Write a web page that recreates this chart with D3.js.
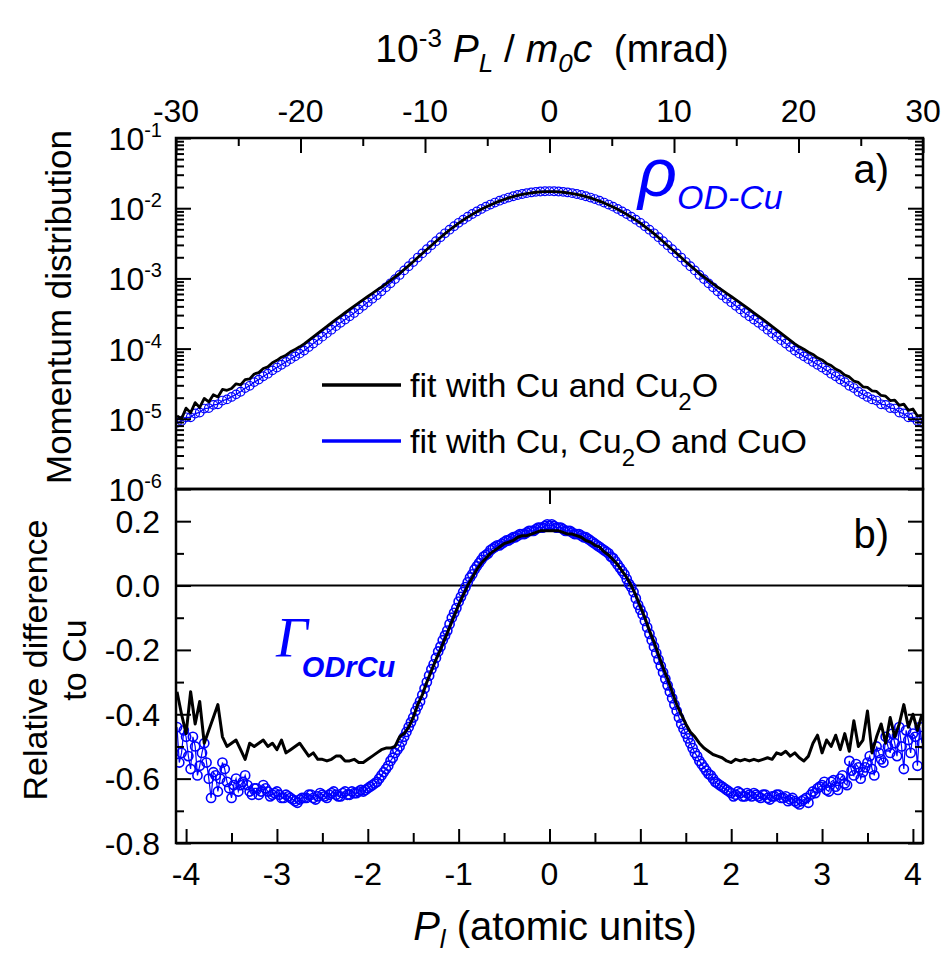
<!DOCTYPE html>
<html><head><meta charset="utf-8">
<script src="https://cdn.jsdelivr.net/npm/d3@7"></script>
<style>
body{margin:0;background:#fff}
svg{display:block}
text{font-family:"Liberation Sans",Arial,sans-serif;fill:#000}
</style>
</head><body>
<svg id="c" width="946" height="958"></svg>
<script>
// ---------------- data ----------------
const pAU = [
-4.10,-4.05,-4.00,-3.95,-3.90,-3.85,-3.80,-3.75,-3.70,-3.65,
-3.60,-3.55,-3.50,-3.45,-3.40,-3.35,-3.30,-3.25,-3.20,-3.15,
-3.10,-3.05,-3.00,-2.95,-2.90,-2.85,-2.80,-2.75,-2.70,-2.65,
-2.60,-2.55,-2.50,-2.45,-2.40,-2.35,-2.30,-2.25,-2.20,-2.15,
-2.10,-2.05,-2.00,-1.95,-1.90,-1.85,-1.80,-1.75,-1.70,-1.65,
-1.60,-1.55,-1.50,-1.45,-1.40,-1.35,-1.30,-1.25,-1.20,-1.15,
-1.10,-1.05,-1.00,-0.95,-0.90,-0.85,-0.80,-0.75,-0.70,-0.65,
-0.60,-0.55,-0.50,-0.45,-0.40,-0.35,-0.30,-0.25,-0.20,-0.15,
-0.10,-0.05,0.00,0.05,0.10,
0.15,0.20,0.25,0.30,0.35,0.40,0.45,0.50,0.55,0.60,
0.65,0.70,0.75,0.80,0.85,0.90,0.95,1.00,1.05,1.10,
1.15,1.20,1.25,1.30,1.35,1.40,1.45,1.50,1.55,1.60,
1.65,1.70,1.75,1.80,1.85,1.90,1.95,2.00,2.05,2.10,
2.15,2.20,2.25,2.30,2.35,2.40,2.45,2.50,2.55,2.60,
2.65,2.70,2.75,2.80,2.85,2.90,2.95,3.00,3.05,3.10,
3.15,3.20,3.25,3.30,3.35,3.40,3.45,3.50,3.55,3.60,
3.65,3.70,3.75,3.80,3.85,3.90,3.95,4.00,4.05,4.10];

// intermediate momentum points (extra measured circles in panel b)
const pAUmid = [
-4.075,-4.025,-3.975,-3.925,-3.875,-3.825,-3.775,-3.725,-3.675,-3.625,
-3.575,-3.525,-3.475,-3.425,-3.375,-3.325,-3.275,-3.225,-3.175,-3.125,
-3.075,-3.025,-2.975,-2.925,-2.875,-2.825,-2.775,-2.725,-2.675,-2.625,
-2.575,-2.525,-2.475,-2.425,-2.375,-2.325,-2.275,-2.225,-2.175,-2.125,
-2.075,-2.025,-1.975,-1.925,-1.875,-1.825,-1.775,-1.725,-1.675,-1.625,
-1.575,-1.525,-1.475,-1.425,-1.375,-1.325,-1.275,-1.225,-1.175,-1.125,
-1.075,-1.025,-0.975,-0.925,-0.875,-0.825,-0.775,-0.725,-0.675,-0.625,
-0.575,-0.525,-0.475,-0.425,-0.375,-0.325,-0.275,-0.225,-0.175,-0.125,
-0.075,-0.025,
0.025,0.075,0.125,0.175,0.225,0.275,0.325,0.375,0.425,0.475,
0.525,0.575,0.625,0.675,0.725,0.775,0.825,0.875,0.925,0.975,
1.025,1.075,1.125,1.175,1.225,1.275,1.325,1.375,1.425,1.475,
1.525,1.575,1.625,1.675,1.725,1.775,1.825,1.875,1.925,1.975,
2.025,2.075,2.125,2.175,2.225,2.275,2.325,2.375,2.425,2.475,
2.525,2.575,2.625,2.675,2.725,2.775,2.825,2.875,2.925,2.975,
3.025,3.075,3.125,3.175,3.225,3.275,3.325,3.375,3.425,3.475,
3.525,3.575,3.625,3.675,3.725,3.775,3.825,3.875,3.925,3.975,
4.025,4.075];

// momentum distribution, fit with Cu and Cu2O (black line)
const rhoFitCuCu2O = [
1.10e-5,1.00e-5,1.42e-5,1.22e-5,1.70e-5,1.45e-5,1.95e-5,1.74e-5,2.20e-5,2.05e-5,
2.62e-5,2.55e-5,2.70e-5,3.15e-5,3.05e-5,3.62e-5,3.70e-5,4.35e-5,4.55e-5,5.20e-5,
5.50e-5,6.30e-5,6.80e-5,7.55e-5,8.05e-5,9.00e-5,9.75e-5,1.06e-4,1.17e-4,1.31e-4,
1.47e-4,1.65e-4,1.85e-4,2.07e-4,2.33e-4,2.61e-4,2.91e-4,3.24e-4,3.61e-4,4.02e-4,
4.47e-4,4.97e-4,5.52e-4,6.12e-4,6.79e-4,7.53e-4,8.38e-4,9.35e-4,1.05e-3,1.18e-3,
1.34e-3,1.52e-3,1.73e-3,1.98e-3,2.26e-3,2.58e-3,2.94e-3,3.36e-3,3.82e-3,4.34e-3,
4.89e-3,5.48e-3,6.12e-3,6.78e-3,7.46e-3,8.17e-3,8.89e-3,9.64e-3,1.039e-2,1.114e-2,
1.189e-2,1.262e-2,1.332e-2,1.400e-2,1.462e-2,1.521e-2,1.572e-2,1.618e-2,1.656e-2,1.687e-2,
1.708e-2,1.722e-2,1.726e-2,1.722e-2,1.708e-2,
1.687e-2,1.656e-2,1.618e-2,1.572e-2,1.521e-2,1.462e-2,1.400e-2,1.332e-2,1.262e-2,1.189e-2,
1.114e-2,1.039e-2,9.64e-3,8.89e-3,8.17e-3,7.46e-3,6.78e-3,6.12e-3,5.48e-3,4.89e-3,
4.34e-3,3.82e-3,3.36e-3,2.94e-3,2.58e-3,2.26e-3,1.98e-3,1.73e-3,1.52e-3,1.34e-3,
1.18e-3,1.05e-3,9.35e-4,8.38e-4,7.53e-4,6.79e-4,6.12e-4,5.52e-4,4.97e-4,4.47e-4,
4.02e-4,3.61e-4,3.24e-4,2.91e-4,2.61e-4,2.33e-4,2.07e-4,1.85e-4,1.65e-4,1.47e-4,
1.31e-4,1.17e-4,1.06e-4,9.80e-5,8.90e-5,8.25e-5,7.40e-5,6.90e-5,6.15e-5,5.75e-5,
5.10e-5,4.75e-5,4.20e-5,3.95e-5,3.45e-5,3.30e-5,2.85e-5,2.80e-5,2.50e-5,2.45e-5,
2.15e-5,2.10e-5,1.82e-5,1.85e-5,1.55e-5,1.62e-5,1.32e-5,1.38e-5,1.10e-5,1.12e-5];

// momentum distribution, fit with Cu, Cu2O and CuO (blue)
const rhoFitCuCu2OCuO = [
8.8e-6,9.3e-6,1.05e-5,1.05e-5,1.19e-5,1.23e-5,1.40e-5,1.42e-5,1.58e-5,1.61e-5,
1.82e-5,1.89e-5,2.05e-5,2.23e-5,2.43e-5,2.74e-5,2.95e-5,3.33e-5,3.62e-5,4.04e-5,
4.39e-5,4.90e-5,5.37e-5,5.89e-5,6.46e-5,7.08e-5,7.76e-5,8.48e-5,9.36e-5,1.05e-4,
1.18e-4,1.32e-4,1.48e-4,1.66e-4,1.86e-4,2.09e-4,2.33e-4,2.59e-4,2.89e-4,3.22e-4,
3.62e-4,4.08e-4,4.58e-4,5.14e-4,5.77e-4,6.55e-4,7.46e-4,8.51e-4,9.77e-4,1.12e-3,
1.30e-3,1.49e-3,1.71e-3,1.98e-3,2.27e-3,2.60e-3,2.97e-3,3.39e-3,3.86e-3,4.39e-3,
4.94e-3,5.54e-3,6.19e-3,6.86e-3,7.55e-3,8.27e-3,9.00e-3,9.76e-3,1.052e-2,1.128e-2,
1.204e-2,1.278e-2,1.349e-2,1.418e-2,1.481e-2,1.541e-2,1.593e-2,1.639e-2,1.678e-2,1.709e-2,
1.730e-2,1.745e-2,1.749e-2,1.745e-2,1.730e-2,
1.709e-2,1.678e-2,1.639e-2,1.593e-2,1.541e-2,1.481e-2,1.418e-2,1.349e-2,1.278e-2,1.204e-2,
1.128e-2,1.052e-2,9.76e-3,9.00e-3,8.27e-3,7.55e-3,6.86e-3,6.19e-3,5.54e-3,4.94e-3,
4.39e-3,3.86e-3,3.39e-3,2.97e-3,2.60e-3,2.27e-3,1.98e-3,1.71e-3,1.49e-3,1.30e-3,
1.12e-3,9.77e-4,8.51e-4,7.46e-4,6.55e-4,5.77e-4,5.14e-4,4.58e-4,4.08e-4,3.62e-4,
3.22e-4,2.89e-4,2.59e-4,2.33e-4,2.09e-4,1.86e-4,1.66e-4,1.48e-4,1.32e-4,1.18e-4,
1.05e-4,9.36e-5,8.48e-5,7.76e-5,7.08e-5,6.46e-5,5.89e-5,5.37e-5,4.90e-5,4.39e-5,
4.04e-5,3.62e-5,3.33e-5,2.95e-5,2.74e-5,2.43e-5,2.23e-5,2.05e-5,1.89e-5,1.82e-5,
1.61e-5,1.58e-5,1.42e-5,1.40e-5,1.23e-5,1.19e-5,1.05e-5,1.05e-5,9.3e-6,8.8e-6];

// relative difference to Cu, fit with Cu and Cu2O (black line)
const gamFitCuCu2O = [
-0.33,-0.40,-0.46,-0.33,-0.43,-0.36,-0.49,-0.45,-0.41,-0.37,
-0.47,-0.50,-0.49,-0.48,-0.51,-0.54,-0.49,-0.50,-0.49,-0.48,
-0.50,-0.49,-0.51,-0.48,-0.52,-0.51,-0.50,-0.49,-0.51,-0.53,
-0.52,-0.54,-0.54,-0.545,-0.54,-0.53,-0.53,-0.545,-0.545,-0.54,
-0.55,-0.55,-0.54,-0.53,-0.52,-0.51,-0.505,-0.505,-0.50,-0.47,
-0.46,-0.44,-0.41,-0.37,-0.34,-0.30,-0.265,-0.23,-0.20,-0.165,
-0.13,-0.095,-0.06,-0.03,0.00,0.025,0.05,0.07,0.085,0.10,
0.11,0.12,0.13,0.135,0.14,0.15,0.155,0.155,0.16,0.165,
0.17,0.17,0.17,0.17,0.17,
0.165,0.16,0.16,0.155,0.15,0.14,0.135,0.125,0.12,0.105,
0.095,0.08,0.065,0.045,0.025,0.00,-0.03,-0.065,-0.10,-0.14,
-0.175,-0.215,-0.255,-0.29,-0.33,-0.37,-0.40,-0.43,-0.455,-0.47,
-0.49,-0.505,-0.515,-0.525,-0.53,-0.535,-0.545,-0.55,-0.54,-0.545,
-0.54,-0.545,-0.54,-0.545,-0.54,-0.535,-0.54,-0.52,-0.525,-0.515,
-0.53,-0.52,-0.535,-0.545,-0.53,-0.49,-0.465,-0.52,-0.48,-0.50,
-0.465,-0.51,-0.46,-0.515,-0.42,-0.50,-0.48,-0.39,-0.52,-0.47,
-0.43,-0.49,-0.41,-0.47,-0.43,-0.37,-0.44,-0.40,-0.45,-0.40];

// relative difference to Cu, fit with Cu, Cu2O and CuO (blue circles)
const gamFitCuCu2OCuO = [
-0.44,-0.52,-0.47,-0.57,-0.50,-0.56,-0.49,-0.60,-0.58,-0.64,
-0.55,-0.61,-0.66,-0.60,-0.62,-0.59,-0.64,-0.63,-0.65,-0.62,
-0.64,-0.65,-0.64,-0.66,-0.65,-0.66,-0.67,-0.665,-0.66,-0.65,
-0.66,-0.655,-0.65,-0.66,-0.645,-0.65,-0.655,-0.64,-0.65,-0.645,
-0.64,-0.64,-0.63,-0.62,-0.61,-0.59,-0.57,-0.545,-0.52,-0.50,
-0.47,-0.44,-0.41,-0.375,-0.34,-0.30,-0.26,-0.225,-0.19,-0.155,
-0.12,-0.085,-0.05,-0.02,0.01,0.035,0.06,0.08,0.095,0.11,
0.12,0.125,0.135,0.14,0.15,0.155,0.16,0.165,0.17,0.175,
0.18,0.185,0.185,0.185,0.18,
0.175,0.17,0.165,0.16,0.155,0.15,0.14,0.13,0.12,0.11,
0.10,0.085,0.065,0.045,0.02,-0.005,-0.04,-0.075,-0.11,-0.15,
-0.19,-0.23,-0.27,-0.31,-0.35,-0.39,-0.43,-0.46,-0.49,-0.52,
-0.545,-0.565,-0.585,-0.60,-0.615,-0.625,-0.635,-0.645,-0.65,-0.645,
-0.655,-0.65,-0.645,-0.655,-0.65,-0.66,-0.655,-0.65,-0.66,-0.655,
-0.665,-0.67,-0.68,-0.665,-0.675,-0.64,-0.63,-0.62,-0.635,-0.61,
-0.625,-0.60,-0.615,-0.545,-0.59,-0.565,-0.58,-0.55,-0.57,-0.50,
-0.54,-0.47,-0.52,-0.49,-0.44,-0.57,-0.48,-0.46,-0.56,-0.49];

// same blue series at the intermediate momenta (pAUmid)
const gamFitCuCu2OCuOmid = [
-0.55,-0.45,-0.53,-0.47,-0.59,-0.52,-0.55,-0.66,-0.59,-0.60,
-0.57,-0.63,-0.62,-0.64,-0.61,-0.62,-0.65,-0.63,-0.64,-0.63,
-0.655,-0.645,-0.65,-0.66,-0.655,-0.665,-0.675,-0.66,-0.66,-0.65,
-0.665,-0.645,-0.655,-0.65,-0.64,-0.655,-0.645,-0.65,-0.64,-0.645,
-0.635,-0.635,-0.625,-0.615,-0.60,-0.58,-0.56,-0.535,-0.51,-0.485,
-0.455,-0.425,-0.39,-0.36,-0.32,-0.28,-0.245,-0.205,-0.17,-0.14,
-0.10,-0.07,-0.035,-0.005,0.025,0.05,0.07,0.09,0.10,0.115,
0.125,0.13,0.14,0.145,0.15,0.16,0.16,0.17,0.17,0.18,
0.18,0.19,
0.19,0.18,0.18,0.17,0.17,0.16,0.16,0.15,0.145,0.135,
0.125,0.115,0.105,0.09,0.075,0.055,0.035,0.005,-0.02,-0.06,
-0.09,-0.13,-0.17,-0.21,-0.25,-0.29,-0.33,-0.37,-0.41,-0.445,
-0.475,-0.505,-0.53,-0.555,-0.575,-0.59,-0.61,-0.62,-0.63,-0.64,
-0.655,-0.64,-0.655,-0.645,-0.655,-0.65,-0.66,-0.65,-0.665,-0.655,
-0.65,-0.66,-0.67,-0.66,-0.675,-0.67,-0.66,-0.65,-0.645,-0.625,
-0.61,-0.64,-0.605,-0.635,-0.59,-0.62,-0.575,-0.555,-0.60,-0.565,
-0.53,-0.59,-0.52,-0.55,-0.50,-0.46,-0.53,-0.50,-0.45,-0.52,
-0.47,-0.44];

const mradTicks = [-30,-20,-10,0,10,20,30];
const mradMinor = [-25,-15,-5,5,15,25];
const auTicks = [-4,-3,-2,-1,0,1,2,3,4];
const auMinor = [-3.5,-2.5,-1.5,-0.5,0.5,1.5,2.5,3.5];
const decadeTicks = [1e-1,1e-2,1e-3,1e-4,1e-5,1e-6];
const decadeExp = ["-1","-2","-3","-4","-5","-6"];
const relTicks = [0.2,0.0,-0.2,-0.4,-0.6,-0.8];
const relLabels = ["0.2","0.0","-0.2","-0.4","-0.6","-0.8"];
const relMinor = [0.1,-0.1,-0.3,-0.5,-0.7];

// ---------------- layout ----------------
const svg = d3.select("#c");
const L = 176, R = 923, T1 = 138, B1 = 489, B2 = 843;
const BLUE = "#0000ff";
const mradPerAU = 7.2974;

const xMrad = d3.scaleLinear().domain([-30, 30]).range([L, R]);
const xAU = d3.scaleLinear().domain([-30 / mradPerAU, 30 / mradPerAU]).range([L, R]);
const yRho = d3.scaleLog().domain([1e-6, 1e-1]).range([B1, T1]);
const yGam = d3.scaleLinear().domain([-0.8, 0.3]).range([B2, B1]);

const defs = svg.append("defs");
defs.append("clipPath").attr("id", "clipA").append("rect").attr("x", L).attr("y", T1).attr("width", R - L).attr("height", B1 - T1);
defs.append("clipPath").attr("id", "clipB").append("rect").attr("x", L).attr("y", B1).attr("width", R - L).attr("height", B2 - B1);

const idx = d3.range(pAU.length);

// ---------- panel a ----------
const gA = svg.append("g").attr("clip-path", "url(#clipA)");
gA.append("path")
  .attr("d", d3.line().x(i => xAU(pAU[i])).y(i => yRho(rhoFitCuCu2OCuO[i]))(idx))
  .attr("fill", "none").attr("stroke", BLUE).attr("stroke-width", 1.3);
gA.selectAll("circle").data(idx).join("circle")
  .attr("cx", i => xAU(pAU[i])).attr("cy", i => yRho(rhoFitCuCu2OCuO[i]))
  .attr("r", 4.3).attr("fill", "none").attr("stroke", BLUE).attr("stroke-width", 1.2);
gA.append("path")
  .attr("d", d3.line().x(i => xAU(pAU[i])).y(i => yRho(rhoFitCuCu2O[i]))(idx))
  .attr("fill", "none").attr("stroke", "#000").attr("stroke-width", 2.8).attr("stroke-linejoin", "round");

// ---------- panel b ----------
const blueB = pAU.map((p, i) => [p, gamFitCuCu2OCuO[i]])
  .concat(pAUmid.map((p, i) => [p, gamFitCuCu2OCuOmid[i]]))
  .sort((a, b) => a[0] - b[0]);
const gB = svg.append("g").attr("clip-path", "url(#clipB)");
gB.append("line").attr("x1", L).attr("x2", R).attr("y1", yGam(0)).attr("y2", yGam(0))
  .attr("stroke", "#000").attr("stroke-width", 2);
gB.append("path")
  .attr("d", d3.line().x(d => xAU(d[0])).y(d => yGam(d[1]))(blueB))
  .attr("fill", "none").attr("stroke", BLUE).attr("stroke-width", 1.2);
gB.selectAll("circle").data(blueB).join("circle")
  .attr("cx", d => xAU(d[0])).attr("cy", d => yGam(d[1]))
  .attr("r", 4.6).attr("fill", "none").attr("stroke", BLUE).attr("stroke-width", 1.6);
gB.append("path")
  .attr("d", d3.line().x(i => xAU(pAU[i])).y(i => yGam(gamFitCuCu2O[i]))(idx))
  .attr("fill", "none").attr("stroke", "#000").attr("stroke-width", 3).attr("stroke-linejoin", "round");

// ---------- axes (inward ticks) ----------
function axis(gen, tx, ty, size) {
  const g = svg.append("g").attr("transform", `translate(${tx},${ty})`)
    .call(gen.tickSize(size).tickFormat(""));
  g.select(".domain").remove();
  g.selectAll(".tick line").attr("stroke", "#000").attr("stroke-width", 2);
  return g;
}
const logMinor = [];
[1e-6, 1e-5, 1e-4, 1e-3, 1e-2].forEach(d => [2,3,4,5,6,7,8,9].forEach(m => logMinor.push(d * m)));

// panel a
axis(d3.axisRight(yRho).tickValues(decadeTicks), L, 0, 15);
axis(d3.axisRight(yRho).tickValues(logMinor), L, 0, 8);
axis(d3.axisLeft(yRho).tickValues(decadeTicks), R, 0, 15);
axis(d3.axisLeft(yRho).tickValues(logMinor), R, 0, 8);
axis(d3.axisBottom(xMrad).tickValues(mradTicks), 0, T1, 15);
axis(d3.axisBottom(xMrad).tickValues(mradMinor), 0, T1, 8);
axis(d3.axisBottom(xAU).tickValues([0]), 0, B1, 15);
// panel b
axis(d3.axisRight(yGam).tickValues(relTicks), L, 0, 15);
axis(d3.axisRight(yGam).tickValues(relMinor), L, 0, 8);
axis(d3.axisLeft(yGam).tickValues(relTicks), R, 0, 15);
axis(d3.axisLeft(yGam).tickValues(relMinor), R, 0, 8);
axis(d3.axisTop(xAU).tickValues(auTicks), 0, B2, 14);
axis(d3.axisTop(xAU).tickValues(auMinor), 0, B2, 10);

// frames
svg.append("rect").attr("x", L).attr("y", T1).attr("width", R - L).attr("height", B1 - T1)
  .attr("fill", "none").attr("stroke", "#000").attr("stroke-width", 2.5);
svg.append("rect").attr("x", L).attr("y", B1).attr("width", R - L).attr("height", B2 - B1)
  .attr("fill", "none").attr("stroke", "#000").attr("stroke-width", 2.5);

// ---------- tick labels ----------
const TF = 32;
svg.append("g").selectAll("text").data(mradTicks).join("text")
  .attr("x", d => xMrad(d)).attr("y", 122).attr("text-anchor", "middle")
  .attr("font-size", TF).text(d => String(d));
svg.append("g").selectAll("text").data(auTicks).join("text")
  .attr("x", d => xAU(d)).attr("y", 885).attr("text-anchor", "middle")
  .attr("font-size", TF).text(d => String(d));
svg.append("g").selectAll("text").data(relTicks).join("text")
  .attr("x", 160).attr("y", d => yGam(d) + 11.5).attr("text-anchor", "end")
  .attr("font-size", TF).text((d, i) => relLabels[i]);
const logLab = svg.append("g").selectAll("text").data(decadeTicks).join("text")
  .attr("x", 162).attr("y", d => yRho(d) + 12).attr("text-anchor", "end").attr("font-size", TF);
logLab.append("tspan").text("10");
logLab.append("tspan").attr("font-size", 20).attr("dy", -13).text((d, i) => decadeExp[i]);

// ---------- titles ----------
const topTitle = svg.append("text").attr("x", 552).attr("y", 62).attr("text-anchor", "middle").attr("font-size", 39);
topTitle.append("tspan").text("10");
topTitle.append("tspan").attr("font-size", 26).attr("dy", -15).text("-3");
topTitle.append("tspan").attr("dy", 15).text(" ");
topTitle.append("tspan").attr("font-style", "italic").text("P");
topTitle.append("tspan").attr("font-style", "italic").attr("font-size", 26).attr("dy", 10).text("L");
topTitle.append("tspan").attr("dy", -10).text(" / ");
topTitle.append("tspan").attr("font-style", "italic").text("m");
topTitle.append("tspan").attr("font-style", "italic").attr("font-size", 26).attr("dy", 10).text("0");
topTitle.append("tspan").attr("font-style", "italic").attr("dy", -10).text("c");
topTitle.append("tspan").text("\u00a0 (mrad)");

const botTitle = svg.append("text").attr("x", 555).attr("y", 940).attr("text-anchor", "middle").attr("font-size", 40);
botTitle.append("tspan").attr("font-style", "italic").text("P");
botTitle.append("tspan").attr("font-style", "italic").attr("font-size", 26).attr("dy", 8).text("l");
botTitle.append("tspan").attr("dy", -8).text(" (atomic units)");

svg.append("text").attr("transform", "translate(71,307) rotate(-90)").attr("text-anchor", "middle")
  .attr("font-size", 35).text("Momentum distribution");
svg.append("text").attr("transform", "translate(47,660) rotate(-90)").attr("text-anchor", "middle")
  .attr("font-size", 34).text("Relative difference");
svg.append("text").attr("transform", "translate(86,660) rotate(-90)").attr("text-anchor", "middle")
  .attr("font-size", 34).text("to Cu");

// panel letters
svg.append("text").attr("x", 889).attr("y", 183).attr("text-anchor", "end").attr("font-size", 40).text("a)");
svg.append("text").attr("x", 889).attr("y", 548).attr("text-anchor", "end").attr("font-size", 40).text("b)");

// ---------- legend ----------
const legend = [
  {color: "#000", parts: ["fit with Cu and Cu", "2", "O"], y: 385},
  {color: BLUE, parts: ["fit with Cu, Cu", "2", "O and CuO"], y: 441}
];
legend.forEach(l => {
  svg.append("line").attr("x1", 322).attr("x2", 401).attr("y1", l.y).attr("y2", l.y)
    .attr("stroke", l.color).attr("stroke-width", 3.5);
  const t = svg.append("text").attr("x", 410).attr("y", l.y + 12).attr("font-size", 34);
  t.append("tspan").text(l.parts[0]);
  t.append("tspan").attr("font-size", 24).attr("dy", 13).text(l.parts[1]);
  t.append("tspan").attr("dy", -13).text(l.parts[2]);
});

// ---------- curve labels ----------
const rhoLabel = svg.append("text").attr("x", 638).attr("y", 196).style("fill", BLUE);
rhoLabel.append("tspan").attr("font-size", 68).attr("font-style", "italic").text("\u03c1");
rhoLabel.append("tspan").attr("font-size", 34).attr("font-style", "italic").attr("dy", 13).text("OD-Cu");

const gamLabel = svg.append("text").attr("x", 276).attr("y", 657).style("fill", BLUE);
gamLabel.append("tspan").attr("font-family", "'Liberation Serif','Times New Roman',serif")
  .attr("font-size", 56).attr("font-style", "italic").text("\u0393");
gamLabel.append("tspan").attr("font-size", 29).attr("font-style", "italic").attr("font-weight", "bold")
  .attr("dy", 20).attr("dx", -6).text("ODrCu");
</script>
</body></html>
